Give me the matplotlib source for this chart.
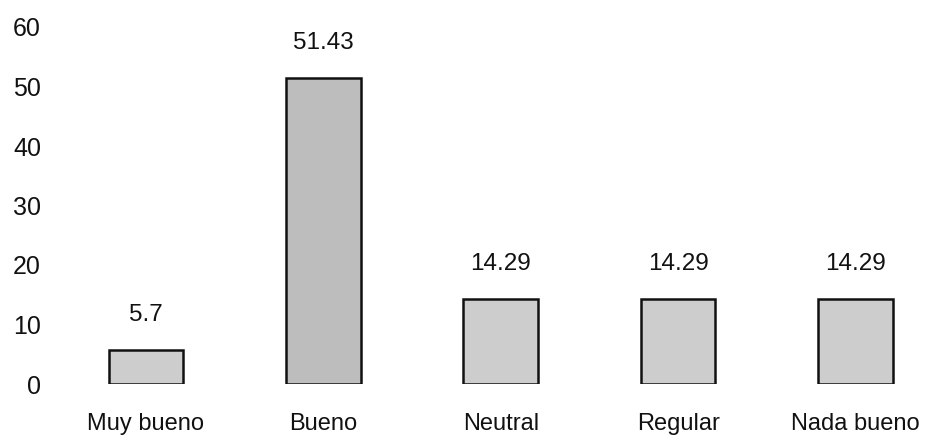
import matplotlib
matplotlib.use("Agg")
import matplotlib.pyplot as plt

categories = ["Muy bueno", "Bueno", "Neutral", "Regular", "Nada bueno"]
values = [5.7, 51.43, 14.29, 14.29, 14.29]
labels = ["5.7", "51.43", "14.29", "14.29", "14.29"]
yticks = [0, 10, 20, 30, 40, 50, 60]

plt.rcParams['font.family'] = ['Liberation Sans', 'DejaVu Sans']

fig = plt.figure(figsize=(9.36, 4.46), dpi=100)
ax = fig.add_axes([55/936, 62/446, (930-55)/936, (384-27)/446])

x = list(range(len(categories)))
bars = ax.bar(x, values, width=0.42, color='#cdcdcd', edgecolor='#111111', linewidth=1.8)
bars[1].set_facecolor('#bdbdbd')

for xi, v, lab in zip(x, values, labels):
    ax.annotate(lab, (xi, v), xytext=(0, 25), textcoords='offset points',
                ha='center', va='center', fontsize=17.5, color='#111111')

ax.set_xlim(-0.513, 4.42)
ax.set_ylim(0, 60)
ax.set_yticks(yticks)
ax.set_xticks(x)
ax.set_xticklabels(categories)
ax.tick_params(axis='x', length=0, pad=21, labelsize=17, colors='#111111')
ax.tick_params(axis='y', length=0, pad=10, labelsize=18, colors='#111111')
for s in ax.spines.values():
    s.set_visible(False)

fig.savefig("out.png", dpi=100)
